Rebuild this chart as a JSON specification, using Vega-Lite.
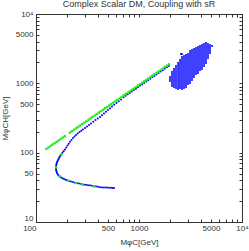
{
"$schema": "https://vega.github.io/schema/vega-lite/v6.json",
"width": 206, "height": 208,
"autosize": {"type": "none"},
"padding": {"left": 36, "top": 14, "right": 7, "bottom": 29},
"title": {"text": "Complex Scalar DM, Coupling with sR", "font": "Liberation Sans", "fontSize": 9, "fontWeight": "normal", "color": "#333333", "offset": 1, "anchor": "middle"},
"config": {"view": {"stroke": "#333333", "strokeWidth": 1}},
"datasets": {
"blue": [
{"x":571.9,"y":30.84},{"x":553,"y":31.0},{"x":534.8,"y":31.15},{"x":511,"y":31.25},{"x":489.0,"y":31.36},{"x":468,"y":31.5},{"x":447.2,"y":31.57},{"x":428,"y":31.8},{"x":409.0,"y":32.10},{"x":391,"y":32.4},{"x":373.9,"y":32.75},{"x":357.6,"y":33.1},{"x":342.0,"y":33.52},{"x":327,"y":33.8},{"x":312.6,"y":34.08},{"x":299,"y":34.5},{"x":285.9,"y":34.88},{"x":273.4,"y":35.3},{"x":261.5,"y":35.82},{"x":250,"y":36.4},{"x":239.1,"y":36.90},{"x":228.7,"y":37.6},{"x":218.7,"y":38.28},{"x":209.1,"y":39.1},{"x":200.0,"y":39.97},{"x":193.4,"y":40.8},{"x":187.0,"y":41.60},{"x":180.9,"y":42.8},{"x":174.9,"y":44.01},{"x":170.1,"y":45.5},{"x":165.4,"y":47.03},{"x":162.6,"y":48.9},{"x":159.9,"y":50.77},{"x":158.5,"y":52.9},{"x":157.1,"y":55.16},{"x":156.7,"y":57.5},{"x":156.4,"y":59.95},{"x":156.7,"y":62.5},{"x":157.1,"y":65.15},{"x":158,"y":67.9},{"x":158.9,"y":70.77},{"x":160.8,"y":73.8},{"x":162.8,"y":76.92},{"x":165,"y":80.2},{"x":167.3,"y":83.58},{"x":170.1,"y":87.1},{"x":173.0,"y":90.83},{"x":176.9,"y":95.4},{"x":180.8,"y":100.3},{"x":185.9,"y":105.8},{"x":191.2,"y":111.5},{"x":196.6,"y":118.8},{"x":202.2,"y":126.6},{"x":207.9,"y":134.8},{"x":213.8,"y":143.6},{"x":221.1,"y":152.8},{"x":228.7,"y":162.5},{"x":236.5,"y":170.8},{"x":244.5,"y":179.5},{"x":254.3,"y":188.7},{"x":264.4,"y":198.3},{"x":275,"y":206.7},{"x":285.9,"y":215.4},{"x":299,"y":226.4},{"x":312.6,"y":238.0},{"x":327,"y":250.1},{"x":342.0,"y":262.9},{"x":359.7,"y":278.7},{"x":378.2,"y":295.4},{"x":397.7,"y":310.5},{"x":418.2,"y":326.4},{"x":437.3,"y":345.9},{"x":457.3,"y":366.6},{"x":478.2,"y":388.5},{"x":500.0,"y":411.8},{"x":522.9,"y":436.5},{"x":546.9,"y":462.6},{"x":575.1,"y":490.3},{"x":604.8,"y":519.7},{"x":635.9,"y":551.7},{"x":668.6,"y":585.7},
{"x":707.9,"y":630.6},{"x":741.3,"y":661.0},{"x":776.2,"y":693.1},{"x":812.8,"y":726.5},{"x":851.1,"y":761.6},{"x":891.3,"y":798.5},{"x":933.3,"y":837.1},{"x":977.2,"y":877.7},{"x":1023,"y":920.3},{"x":1072,"y":964.8},{"x":1122,"y":1011},{"x":1175,"y":1060},{"x":1230,"y":1112},{"x":1288,"y":1165},{"x":1349,"y":1222},{"x":1413,"y":1281},{"x":1479,"y":1343},{"x":1549,"y":1408},{"x":1622,"y":1476},{"x":1698,"y":1547},{"x":1778,"y":1622},{"x":1862,"y":1701},{"x":1950,"y":1782},
{"x":2000,"y":1232},{"x":2000,"y":1153},{"x":2000,"y":1079},
{"x":2090,"y":1456},{"x":2090,"y":1362},{"x":2090,"y":1274},{"x":2090,"y":1192},{"x":2090,"y":1116},{"x":2090,"y":1044},{"x":2090,"y":977},{"x":2090,"y":914},
{"x":2188,"y":1608},{"x":2188,"y":1504},{"x":2188,"y":1408},{"x":2188,"y":1317},{"x":2188,"y":1232},{"x":2188,"y":1153},{"x":2188,"y":1079},{"x":2188,"y":1009},{"x":2188,"y":944},{"x":2188,"y":884},
{"x":2287,"y":1778},{"x":2287,"y":1664},{"x":2287,"y":1556},{"x":2287,"y":1456},{"x":2287,"y":1362},{"x":2287,"y":1274},{"x":2287,"y":1192},{"x":2287,"y":1116},{"x":2287,"y":1044},{"x":2287,"y":977},{"x":2287,"y":914},{"x":2287,"y":855},
{"x":2395,"y":1963},{"x":2395,"y":1837},{"x":2395,"y":1719},{"x":2395,"y":1608},{"x":2395,"y":1504},{"x":2395,"y":1408},{"x":2395,"y":1317},{"x":2395,"y":1232},{"x":2395,"y":1153},{"x":2395,"y":1079},{"x":2395,"y":1009},{"x":2395,"y":944},{"x":2395,"y":884},{"x":2395,"y":827},
{"x":2502,"y":2168},{"x":2502,"y":2028},{"x":2502,"y":1900},{"x":2502,"y":1778},{"x":2502,"y":1664},{"x":2502,"y":1556},{"x":2502,"y":1456},{"x":2502,"y":1362},{"x":2502,"y":1274},{"x":2502,"y":1192},{"x":2502,"y":1116},{"x":2502,"y":1044},{"x":2502,"y":977},{"x":2502,"y":914},{"x":2502,"y":855},
{"x":2614,"y":2649},{"x":2614,"y":2396},{"x":2614,"y":2243},{"x":2614,"y":2098},{"x":2614,"y":1963},{"x":2614,"y":1837},{"x":2614,"y":1719},{"x":2614,"y":1608},{"x":2614,"y":1504},{"x":2614,"y":1408},{"x":2614,"y":1317},{"x":2614,"y":1232},{"x":2614,"y":1153},{"x":2614,"y":1079},{"x":2614,"y":1009},{"x":2614,"y":944},{"x":2614,"y":884},{"x":2614,"y":827},
{"x":2734,"y":2478},{"x":2734,"y":2318},{"x":2734,"y":2168},{"x":2734,"y":2028},{"x":2734,"y":1900},{"x":2734,"y":1778},{"x":2734,"y":1664},{"x":2734,"y":1556},{"x":2734,"y":1456},{"x":2734,"y":1362},{"x":2734,"y":1274},{"x":2734,"y":1192},{"x":2734,"y":1116},{"x":2734,"y":1044},{"x":2734,"y":977},{"x":2734,"y":914},{"x":2734,"y":855},
{"x":2860,"y":2560},{"x":2860,"y":2396},{"x":2860,"y":2243},{"x":2860,"y":2098},{"x":2860,"y":1963},{"x":2860,"y":1837},{"x":2860,"y":1719},{"x":2860,"y":1608},{"x":2860,"y":1504},{"x":2860,"y":1408},{"x":2860,"y":1317},{"x":2860,"y":1232},{"x":2860,"y":1153},{"x":2860,"y":1079},{"x":2860,"y":1009},{"x":2860,"y":944},{"x":2860,"y":884},
{"x":2992,"y":2649},{"x":2992,"y":2478},{"x":2992,"y":2318},{"x":2992,"y":2168},{"x":2992,"y":2028},{"x":2992,"y":1900},{"x":2992,"y":1778},{"x":2992,"y":1664},{"x":2992,"y":1556},{"x":2992,"y":1456},{"x":2992,"y":1362},{"x":2992,"y":1274},{"x":2992,"y":1192},{"x":2992,"y":1116},{"x":2992,"y":1044},{"x":2992,"y":977},
{"x":3128,"y":2926},{"x":3128,"y":2738},{"x":3128,"y":2560},{"x":3128,"y":2396},{"x":3128,"y":2243},{"x":3128,"y":2098},{"x":3128,"y":1963},{"x":3128,"y":1837},{"x":3128,"y":1719},{"x":3128,"y":1608},{"x":3128,"y":1504},{"x":3128,"y":1408},{"x":3128,"y":1317},{"x":3128,"y":1232},{"x":3128,"y":1153},{"x":3128,"y":1079},{"x":3128,"y":1009},
{"x":3270,"y":3026},{"x":3270,"y":2831},{"x":3270,"y":2649},{"x":3270,"y":2478},{"x":3270,"y":2318},{"x":3270,"y":2168},{"x":3270,"y":2028},{"x":3270,"y":1900},{"x":3270,"y":1778},{"x":3270,"y":1664},{"x":3270,"y":1556},{"x":3270,"y":1456},{"x":3270,"y":1362},{"x":3270,"y":1274},{"x":3270,"y":1192},{"x":3270,"y":1116},
{"x":3420,"y":3126},{"x":3420,"y":2926},{"x":3420,"y":2738},{"x":3420,"y":2560},{"x":3420,"y":2396},{"x":3420,"y":2243},{"x":3420,"y":2098},{"x":3420,"y":1963},{"x":3420,"y":1837},{"x":3420,"y":1719},{"x":3420,"y":1608},{"x":3420,"y":1504},{"x":3420,"y":1408},{"x":3420,"y":1317},{"x":3420,"y":1232},
{"x":3575,"y":3228},{"x":3575,"y":3026},{"x":3575,"y":2831},{"x":3575,"y":2649},{"x":3575,"y":2478},{"x":3575,"y":2318},{"x":3575,"y":2168},{"x":3575,"y":2028},{"x":3575,"y":1900},{"x":3575,"y":1778},{"x":3575,"y":1664},{"x":3575,"y":1556},{"x":3575,"y":1456},{"x":3575,"y":1362},
{"x":3740,"y":3340},{"x":3740,"y":3126},{"x":3740,"y":2926},{"x":3740,"y":2738},{"x":3740,"y":2560},{"x":3740,"y":2396},{"x":3740,"y":2243},{"x":3740,"y":2098},{"x":3740,"y":1963},{"x":3740,"y":1837},{"x":3740,"y":1719},{"x":3740,"y":1608},{"x":3740,"y":1504},{"x":3740,"y":1408},
{"x":3910,"y":3451},{"x":3910,"y":3228},{"x":3910,"y":3026},{"x":3910,"y":2831},{"x":3910,"y":2649},{"x":3910,"y":2478},{"x":3910,"y":2318},{"x":3910,"y":2168},{"x":3910,"y":2028},{"x":3910,"y":1900},{"x":3910,"y":1778},{"x":3910,"y":1664},{"x":3910,"y":1556},
{"x":4090,"y":3570},{"x":4090,"y":3340},{"x":4090,"y":3126},{"x":4090,"y":2926},{"x":4090,"y":2738},{"x":4090,"y":2560},{"x":4090,"y":2396},{"x":4090,"y":2243},{"x":4090,"y":2098},{"x":4090,"y":1963},{"x":4090,"y":1837},{"x":4090,"y":1719},{"x":4090,"y":1608},
{"x":4277,"y":3690},{"x":4277,"y":3451},{"x":4277,"y":3228},{"x":4277,"y":3026},{"x":4277,"y":2831},{"x":4277,"y":2649},{"x":4277,"y":2478},{"x":4277,"y":2318},{"x":4277,"y":2168},{"x":4277,"y":2028},{"x":4277,"y":1900},{"x":4277,"y":1778},
{"x":4470,"y":3818},{"x":4470,"y":3570},{"x":4470,"y":3340},{"x":4470,"y":3126},{"x":4470,"y":2926},{"x":4470,"y":2738},{"x":4470,"y":2560},{"x":4470,"y":2396},{"x":4470,"y":2243},{"x":4470,"y":2098},{"x":4470,"y":1963},
{"x":4677,"y":3690},{"x":4677,"y":3451},{"x":4677,"y":3228},{"x":4677,"y":3026},{"x":4677,"y":2831},{"x":4677,"y":2649},{"x":4677,"y":2478},{"x":4677,"y":2318},
{"x":4890,"y":3570},{"x":4890,"y":3340},{"x":4890,"y":3126},{"x":4890,"y":2926},{"x":4890,"y":2738},
{"x":5114,"y":3451},
{"x":2558,"y":2649}
],
"green": [
{"x":125.9,"y":113.1},{"x":131.8,"y":118.6},{"x":138.0,"y":124.3},{"x":144.5,"y":130.3},{"x":151.4,"y":136.7},{"x":158.5,"y":143.2},{"x":166.0,"y":150.2},{"x":173.8,"y":157.5},{"x":182.0,"y":165.1},{"x":190.5,"y":173.1},
{"x":213.8,"y":194.8},{"x":223.9,"y":204.2},{"x":234.4,"y":214.0},{"x":245.5,"y":224.4},{"x":257.0,"y":235.3},{"x":269.2,"y":246.7},{"x":281.8,"y":258.5},{"x":295.1,"y":271.1},{"x":309.0,"y":284.1},{"x":323.6,"y":297.9},{"x":338.8,"y":312.4},{"x":354.8,"y":327.5},{"x":371.5,"y":343.3},{"x":389.0,"y":359.9},{"x":407.4,"y":377.3},{"x":426.6,"y":395.5},{"x":446.7,"y":414.8},{"x":467.7,"y":434.8},{"x":489.8,"y":455.9},{"x":512.9,"y":477.8},{"x":537.0,"y":501.0},{"x":562.3,"y":525.2},{"x":588.8,"y":550.6},{"x":616.6,"y":577.3},{"x":645.7,"y":605.2},{"x":676.1,"y":634.5},{"x":707.9,"y":665.2},{"x":741.3,"y":697.3},{"x":776.2,"y":731.1},{"x":812.8,"y":766.4},{"x":851.1,"y":803.4},{"x":891.3,"y":842.3},{"x":933.3,"y":883.0},{"x":977.2,"y":925.8},{"x":1023,"y":970.8},{"x":1072,"y":1018},{"x":1122,"y":1067},{"x":1175,"y":1118},{"x":1230,"y":1173},{"x":1288,"y":1229},{"x":1349,"y":1289},{"x":1413,"y":1351},{"x":1479,"y":1417},{"x":1549,"y":1485},{"x":1622,"y":1557},{"x":1698,"y":1632},{"x":1778,"y":1711},{"x":1862,"y":1794},{"x":1950,"y":1880},
{"x":170,"y":45.5},{"x":245,"y":36.4},{"x":280,"y":34.8},{"x":156.5,"y":61.5},{"x":176,"y":95},{"x":365,"y":32.6},{"x":205,"y":39.6}
]
},
"layer": [
{
"data": {"name": "blue"},
"mark": {"type": "circle", "size": 4, "color": "#0000ff", "opacity": 1},
"encoding": {
"x": {"field": "x", "type": "quantitative", "scale": {"type": "log", "domain": [100, 10000], "nice": false},
 "axis": {"orient": "bottom", "values": [100,200,300,400,500,600,700,800,900,1000,2000,3000,4000,5000,6000,7000,8000,9000,10000],
  "labelExpr": "datum.value == 10000 ? '10⁴' : (datum.value == 100 || datum.value == 500 || datum.value == 1000 || datum.value == 5000) ? '' + datum.value : ''",
  "labelAlign": {"condition": {"test": "datum.value == 100", "value": "right"}, "value": "center"},
  "tickSize": -3, "tickColor": "#333333", "domainColor": "#333333", "grid": false,
  "labelFont": "Liberation Sans", "labelFontSize": 8, "labelColor": "#333333", "labelPadding": 5, "labelOverlap": false, "labelFlush": false,
  "title": "MφC[GeV]", "titleFont": "Liberation Sans", "titleFontSize": 8, "titleFontWeight": "normal", "titleColor": "#333333", "titlePadding": 6}},
"y": {"field": "y", "type": "quantitative", "scale": {"type": "log", "domain": [10, 10000], "nice": false},
 "axis": {"orient": "left", "values": [10,20,30,40,50,60,70,80,90,100,200,300,400,500,600,700,800,900,1000,2000,3000,4000,5000,6000,7000,8000,9000,10000],
  "labelExpr": "datum.value == 10000 ? '10⁴' : (datum.value == 10 || datum.value == 50 || datum.value == 100 || datum.value == 500 || datum.value == 1000 || datum.value == 5000) ? '' + datum.value : ''",
  "labelBaseline": {"condition": {"test": "datum.value == 10", "value": "bottom"}, "value": "middle"},
  "tickSize": -3, "tickColor": "#333333", "domainColor": "#333333", "grid": false,
  "labelFont": "Liberation Sans", "labelFontSize": 8, "labelColor": "#333333", "labelPadding": 6, "labelOverlap": false, "labelFlush": false,
  "title": "MφCH[GeV]", "titleFont": "Liberation Sans", "titleFontSize": 8, "titleFontWeight": "normal", "titleColor": "#333333", "titlePadding": 6}}
}
},
{
"data": {"name": "green"},
"mark": {"type": "circle", "size": 7, "color": "#22ee22", "opacity": 1},
"encoding": {
"x": {"field": "x", "type": "quantitative", "scale": {"type": "log", "domain": [100, 10000], "nice": false},
 "axis": {"orient": "top", "values": [100,200,300,400,500,600,700,800,900,1000,2000,3000,4000,5000,6000,7000,8000,9000,10000],
  "labels": false, "tickSize": -3, "tickColor": "#333333", "domainColor": "#333333", "grid": false, "title": null}},
"y": {"field": "y", "type": "quantitative", "scale": {"type": "log", "domain": [10, 10000], "nice": false},
 "axis": {"orient": "right", "values": [10,20,30,40,50,60,70,80,90,100,200,300,400,500,600,700,800,900,1000,2000,3000,4000,5000,6000,7000,8000,9000,10000],
  "labels": false, "tickSize": -3, "tickColor": "#333333", "domainColor": "#333333", "grid": false, "title": null}}
}
}
],
"resolve": {"axis": {"x": "independent", "y": "independent"}}
}
